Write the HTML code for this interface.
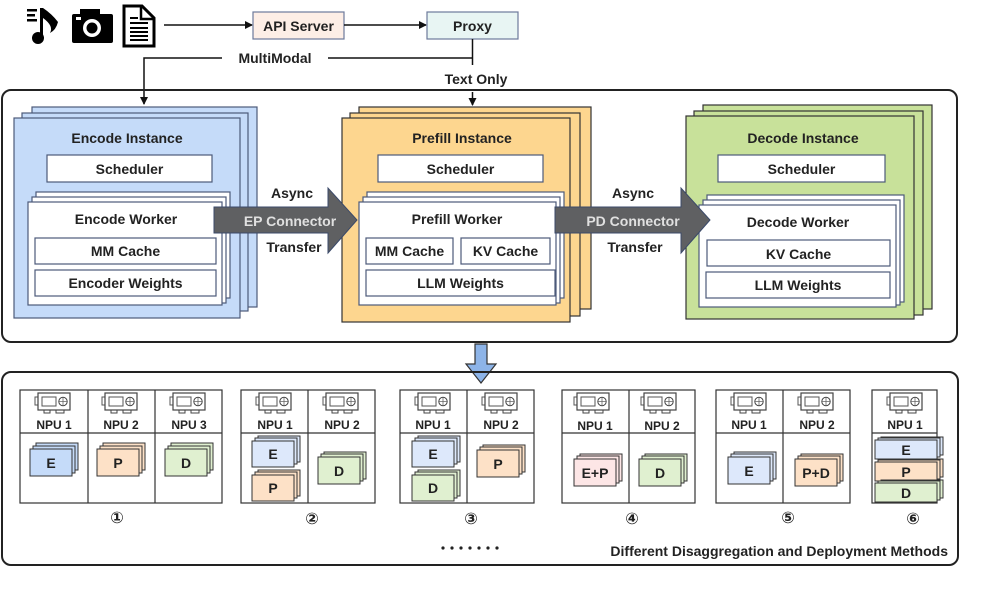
<!DOCTYPE html>
<html><head><meta charset="utf-8"><style>
html,body{margin:0;padding:0;background:#fff}
svg{display:block}
text{font-family:"Liberation Sans","DejaVu Sans",sans-serif;font-weight:bold;fill:#222}
</style></head><body>
<svg width="996" height="596" viewBox="0 0 996 596" xmlns="http://www.w3.org/2000/svg">
<defs>
<marker id="ar" markerWidth="8" markerHeight="8" refX="7" refY="4" orient="auto" markerUnits="userSpaceOnUse"><path d="M0,0 L8,4 L0,8 z" fill="#111"/></marker>
<g id="npu">
<rect x="-1" y="4" width="3" height="8" fill="#fff" stroke="#555" stroke-width="1"/>
<rect x="2" y="0" width="32" height="17" fill="#fff" stroke="#444" stroke-width="1.2"/>
<rect x="6" y="4" width="14" height="9" fill="#fff" stroke="#555" stroke-width="1"/>
<circle cx="27" cy="8.5" r="4.2" fill="#fff" stroke="#444" stroke-width="1"/>
<path d="M27,4.5 L27,12.5 M23,8.5 L31,8.5" stroke="#666" stroke-width="0.8"/>
<path d="M8,17 v3 h6 v-3 M20,17 v3 h8 v-3" fill="none" stroke="#444" stroke-width="1"/>
</g>
</defs>

<!-- top icons -->
<g fill="#000">
<rect x="27" y="9" width="10" height="2.5"/><rect x="27" y="14" width="8" height="2.5"/><rect x="27" y="19" width="10" height="2.5"/>
<rect x="40" y="8" width="3" height="30"/><circle cx="38" cy="38" r="6"/>
<path d="M43,8 Q52,14 58,22 Q56,30 50,33 Q54,26 43,18 z"/>
<rect x="72" y="14" width="41" height="29" rx="2"/><rect x="80" y="9" width="20" height="7"/>
<circle cx="92" cy="28" r="9" fill="#fff"/><circle cx="92" cy="28" r="5.5"/>
<rect x="76" y="17" width="5" height="3" fill="#fff"/>
</g>
<path d="M124,6 L142,6 L154,18 L154,46 L124,46 z" fill="#fff" stroke="#000" stroke-width="3"/>
<path d="M141,6 L141,19 L154,19" fill="none" stroke="#000" stroke-width="2.5"/>
<g fill="#000"><rect x="130" y="22" width="18" height="2"/><rect x="130" y="27" width="18" height="2"/><rect x="130" y="31" width="18" height="2"/><rect x="130" y="35" width="18" height="2"/><rect x="130" y="39" width="18" height="2"/><rect x="130" y="17" width="8" height="2"/></g>

<line x1="164" y1="25" x2="252" y2="25" stroke="#111" stroke-width="1.5" marker-end="url(#ar)"/>
<rect x="253" y="12" width="91" height="27" fill="#fdeee6" stroke="#6d7a9b" stroke-width="1.2"/>
<text x="298.5" y="31" font-size="14" text-anchor="middle">API Server</text>
<line x1="344" y1="25" x2="426" y2="25" stroke="#111" stroke-width="1.5" marker-end="url(#ar)"/>
<rect x="427" y="12" width="91" height="27" fill="#e8f5f3" stroke="#6d7a9b" stroke-width="1.2"/>
<text x="472.5" y="31" font-size="14" text-anchor="middle">Proxy</text>
<path d="M472.5,39 V65" stroke="#111" stroke-width="1.5" fill="none"/>
<path d="M472.5,58 H328 M222,58 H144 V104" stroke="#111" stroke-width="1.5" fill="none" marker-end="url(#ar)"/>
<text x="275" y="63" font-size="14" text-anchor="middle">MultiModal</text>
<text x="476" y="84" font-size="14" text-anchor="middle">Text Only</text>
<line x1="472.5" y1="92" x2="472.5" y2="105" stroke="#111" stroke-width="1.5" marker-end="url(#ar)"/>

<!-- outer box 1 -->
<rect x="2" y="90" width="955" height="252" rx="9" fill="none" stroke="#222" stroke-width="2"/>

<!-- Encode -->
<g stroke="#4d5a7a" stroke-width="1.2" fill="#c5dbf9">
<rect x="32" y="107" width="225" height="200"/>
<rect x="22" y="113" width="226" height="198"/>
<rect x="14" y="118" width="226" height="200"/>
</g>
<text x="127" y="143" font-size="14" text-anchor="middle">Encode Instance</text>
<rect x="47" y="155" width="165" height="27" fill="#fff" stroke="#4d5a7a" stroke-width="1.2"/>
<text x="129.5" y="174" font-size="14" text-anchor="middle">Scheduler</text>
<g stroke="#4d5a7a" stroke-width="1.2" fill="#fff">
<rect x="36" y="192" width="194" height="106"/><rect x="32" y="197" width="194" height="106"/><rect x="28" y="202" width="194" height="103"/>
<rect x="35" y="238" width="181" height="26"/><rect x="35" y="270" width="181" height="26"/>
</g>
<text x="126" y="224" font-size="14" text-anchor="middle">Encode Worker</text>
<text x="125.5" y="256" font-size="14" text-anchor="middle">MM Cache</text>
<text x="125.5" y="288" font-size="14" text-anchor="middle">Encoder Weights</text>

<!-- Prefill -->
<g stroke="#333" stroke-width="1.2" fill="#fdd68f">
<rect x="359" y="107" width="232" height="202"/>
<rect x="350" y="113" width="230" height="203"/>
<rect x="342" y="118" width="228" height="204"/>
</g>
<text x="462" y="143" font-size="14" text-anchor="middle">Prefill Instance</text>
<rect x="378" y="155" width="165" height="27" fill="#fff" stroke="#4d5a7a" stroke-width="1.2"/>
<text x="460.5" y="174" font-size="14" text-anchor="middle">Scheduler</text>
<g stroke="#4d5a7a" stroke-width="1.2" fill="#fff">
<rect x="367" y="192" width="197" height="106"/><rect x="363" y="197" width="197" height="106"/><rect x="359" y="202" width="197" height="103"/>
<rect x="366" y="238" width="87" height="26"/><rect x="461" y="238" width="89" height="26"/><rect x="366" y="270" width="189" height="26"/>
</g>
<text x="457" y="224" font-size="14" text-anchor="middle">Prefill Worker</text>
<text x="409.5" y="256" font-size="14" text-anchor="middle">MM Cache</text>
<text x="505.5" y="256" font-size="14" text-anchor="middle">KV Cache</text>
<text x="460.5" y="288" font-size="14" text-anchor="middle">LLM Weights</text>

<!-- Decode -->
<g stroke="#333" stroke-width="1.2" fill="#c8e19a">
<rect x="703" y="105" width="229" height="204"/>
<rect x="694" y="111" width="229" height="204"/>
<rect x="686" y="116" width="228" height="203"/>
</g>
<text x="803" y="143" font-size="14" text-anchor="middle">Decode Instance</text>
<rect x="718" y="155" width="167" height="27" fill="#fff" stroke="#4d5a7a" stroke-width="1.2"/>
<text x="801.5" y="174" font-size="14" text-anchor="middle">Scheduler</text>
<g stroke="#4d5a7a" stroke-width="1.2" fill="#fff">
<rect x="707" y="195" width="197" height="107"/><rect x="703" y="200" width="197" height="105"/><rect x="699" y="205" width="197" height="102"/>
<rect x="707" y="240" width="183" height="26"/><rect x="706" y="272" width="184" height="26"/>
</g>
<text x="798" y="227" font-size="14" text-anchor="middle">Decode Worker</text>
<text x="798.5" y="259" font-size="14" text-anchor="middle">KV Cache</text>
<text x="798" y="290" font-size="14" text-anchor="middle">LLM Weights</text>

<!-- connectors -->
<path d="M214,207 H328 V188 L357,220 L328,253 V233 H214 z" fill="#5f6062" stroke="#3b4a6a" stroke-width="1"/>
<text x="290" y="226" font-size="14" text-anchor="middle" style="fill:#e0e0e0">EP Connector</text>
<text x="292" y="198" font-size="14" text-anchor="middle">Async</text>
<text x="294" y="252" font-size="14" text-anchor="middle">Transfer</text>
<path d="M555,207 H681 V188 L710,220 L681,253 V233 H555 z" fill="#5f6062" stroke="#3b4a6a" stroke-width="1"/>
<text x="633" y="226" font-size="14" text-anchor="middle" style="fill:#e0e0e0">PD Connector</text>
<text x="633" y="198" font-size="14" text-anchor="middle">Async</text>
<text x="635" y="252" font-size="14" text-anchor="middle">Transfer</text>

<!-- big down arrow -->
<path d="M475,344 H487 V364 H496 L481,383 L466,364 H475 z" fill="#8db4e8" stroke="#333" stroke-width="1.2"/>

<!-- outer box 2 -->
<rect x="2" y="372" width="956" height="193" rx="9" fill="none" stroke="#222" stroke-width="2"/>

<!-- tables -->
<g fill="#fff" stroke="#333" stroke-width="1.2">
<rect x="20" y="390" width="202" height="113"/>
<rect x="241" y="390" width="134" height="113"/>
<rect x="400" y="390" width="134" height="113"/>
<rect x="562" y="390" width="133" height="113"/>
<rect x="716" y="390" width="134" height="113"/>
<rect x="872" y="390" width="65" height="113"/>
</g>
<g stroke="#333" stroke-width="1.2">
<path d="M20,433 H222 M88,390 V503 M155,390 V503"/>
<path d="M241,433 H375 M308,390 V503"/>
<path d="M400,433 H534 M467,390 V503"/>
<path d="M562,433 H695 M629,390 V503"/>
<path d="M716,433 H850 M783,390 V503"/>
<path d="M872,433 H937"/>
</g>
<g>
<use href="#npu" x="36" y="393"/><use href="#npu" x="103" y="393"/><use href="#npu" x="171" y="393"/>
<use href="#npu" x="257" y="393"/><use href="#npu" x="324" y="393"/>
<use href="#npu" x="416" y="393"/><use href="#npu" x="483" y="393"/>
<use href="#npu" x="575" y="393"/><use href="#npu" x="642" y="393"/>
<use href="#npu" x="732" y="393"/><use href="#npu" x="799" y="393"/>
<use href="#npu" x="888" y="393"/>
</g>
<g font-size="12" text-anchor="middle">
<text x="54" y="429">NPU 1</text><text x="121" y="429">NPU 2</text><text x="189" y="429">NPU 3</text>
<text x="275" y="429">NPU 1</text><text x="342" y="429">NPU 2</text>
<text x="433" y="429">NPU 1</text><text x="501" y="429">NPU 2</text>
<text x="595" y="430">NPU 1</text><text x="662" y="430">NPU 2</text>
<text x="749" y="429">NPU 1</text><text x="817" y="429">NPU 2</text>
<text x="905" y="429">NPU 1</text>
</g>

<!-- mini stacks -->
<g stroke="#333" stroke-width="1">
<g fill="#c5dbf9"><rect x="36" y="443" width="42" height="27"/><rect x="33" y="446" width="42" height="27"/><rect x="30" y="449" width="42" height="27"/></g>
<g fill="#fde1c7"><rect x="103" y="443" width="42" height="27"/><rect x="100" y="446" width="42" height="27"/><rect x="97" y="449" width="42" height="27"/></g>
<g fill="#e0f0d0"><rect x="171" y="443" width="42" height="27"/><rect x="168" y="446" width="42" height="27"/><rect x="165" y="449" width="42" height="27"/></g>

<g fill="#dde8fb"><rect x="258" y="436" width="42" height="26"/><rect x="255" y="438" width="42" height="26"/><rect x="252" y="441" width="42" height="26"/></g>
<g fill="#fde1c7"><rect x="258" y="470" width="42" height="26"/><rect x="255" y="472" width="42" height="26"/><rect x="252" y="475" width="42" height="26"/></g>
<g fill="#e0f0d0"><rect x="324" y="452" width="42" height="27"/><rect x="321" y="454" width="42" height="27"/><rect x="318" y="457" width="42" height="27"/></g>

<g fill="#dde8fb"><rect x="418" y="436" width="42" height="26"/><rect x="415" y="438" width="42" height="26"/><rect x="412" y="441" width="42" height="26"/></g>
<g fill="#e0f0d0"><rect x="418" y="470" width="42" height="26"/><rect x="415" y="472" width="42" height="26"/><rect x="412" y="475" width="42" height="26"/></g>
<g fill="#fde1c7"><rect x="483" y="445" width="42" height="27"/><rect x="480" y="447" width="42" height="27"/><rect x="477" y="450" width="42" height="27"/></g>

<g fill="#fde6e6"><rect x="580" y="454" width="42" height="27"/><rect x="577" y="456" width="42" height="27"/><rect x="574" y="459" width="42" height="27"/></g>
<g fill="#e0f0d0"><rect x="645" y="454" width="42" height="27"/><rect x="642" y="456" width="42" height="27"/><rect x="639" y="459" width="42" height="27"/></g>

<g fill="#dde8fb"><rect x="734" y="452" width="42" height="27"/><rect x="731" y="454" width="42" height="27"/><rect x="728" y="457" width="42" height="27"/></g>
<g fill="#fde1c7"><rect x="801" y="454" width="42" height="27"/><rect x="798" y="456" width="42" height="27"/><rect x="795" y="459" width="42" height="27"/></g>

<g fill="#dde8fb"><rect x="881" y="437" width="62" height="18"/><rect x="878" y="438" width="62" height="19"/><rect x="875" y="440" width="62" height="19"/></g>
<g fill="#fde1c7"><rect x="881" y="459" width="62" height="18"/><rect x="878" y="460" width="62" height="19"/><rect x="875" y="462" width="62" height="19"/></g>
<g fill="#e0f0d0"><rect x="881" y="480" width="62" height="18"/><rect x="878" y="481" width="62" height="19"/><rect x="875" y="483" width="62" height="19"/></g>
</g>
<g font-size="14" text-anchor="middle">
<text x="51" y="468">E</text><text x="118" y="468">P</text><text x="186" y="468">D</text>
<text x="273" y="459">E</text><text x="273" y="493">P</text><text x="339" y="476">D</text>
<text x="433" y="459">E</text><text x="433" y="493">D</text><text x="498" y="469">P</text>
<text x="595" y="478">E+P</text><text x="660" y="478">D</text>
<text x="749" y="476">E</text><text x="816" y="478">P+D</text>
<text x="906" y="455">E</text><text x="906" y="477">P</text><text x="906" y="498">D</text>
</g>

<g font-size="16" text-anchor="middle" style="font-weight:normal">
<text x="117" y="523" font-family="DejaVu Sans">①</text>
<text x="312" y="524" font-family="DejaVu Sans">②</text>
<text x="471" y="524" font-family="DejaVu Sans">③</text>
<text x="632" y="524" font-family="DejaVu Sans">④</text>
<text x="788" y="523" font-family="DejaVu Sans">⑤</text>
<text x="913" y="524" font-family="DejaVu Sans">⑥</text>
</g>
<g fill="#222"><circle cx="443" cy="548" r="1.6"/><circle cx="452" cy="548" r="1.6"/><circle cx="461" cy="548" r="1.6"/><circle cx="470" cy="548" r="1.6"/><circle cx="479" cy="548" r="1.6"/><circle cx="488" cy="548" r="1.6"/><circle cx="497" cy="548" r="1.6"/></g>
<text x="948" y="556" font-size="14" text-anchor="end">Different Disaggregation and Deployment Methods</text>
</svg>
</body></html>
